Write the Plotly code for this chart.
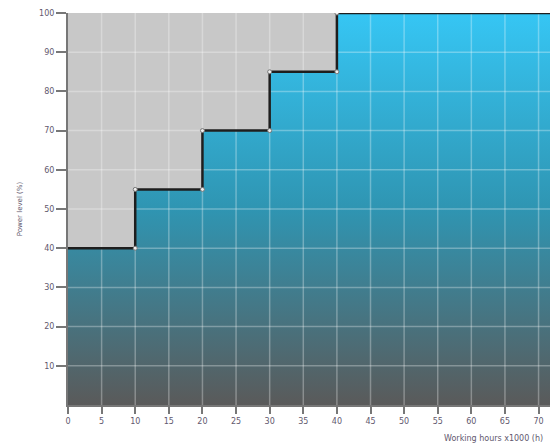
import plotly.graph_objects as go

# step changes of the power level
hours = [0, 10, 20, 30, 40, 72]
power = [40, 55, 70, 85, 100, 100]

x_ticks = list(range(0, 75, 5))
y_ticks = list(range(10, 110, 10))
x_max = 71.7

# corner points of the step (before and after each jump)
corner_x, corner_y = [], []
for i in range(1, len(hours) - 1):
    corner_x += [hours[i], hours[i]]
    corner_y += [power[i - 1], power[i]]

fig = go.Figure()

# gradient area under the step
fig.add_trace(go.Scatter(
    x=hours, y=power,
    mode="lines",
    line=dict(shape="hv", width=0),
    fill="tozeroy",
    fillgradient=dict(
        type="vertical",
        colorscale=[[0, "#5a5a5a"], [0.5, "#2f95b2"], [1, "#36c6f4"]],
    ),
    showlegend=False,
    hoverinfo="skip",
))

# grid lines on top of the fill but under the step line
gx, gy = [], []
for v in x_ticks[1:]:
    gx += [v, v, None]
    gy += [0, 100, None]
for v in y_ticks[:-1]:
    gx += [0, x_max, None]
    gy += [v, v, None]
fig.add_trace(go.Scatter(
    x=gx, y=gy, mode="lines",
    line=dict(color="rgba(255,255,255,0.3)", width=1.5),
    showlegend=False, hoverinfo="skip",
))

fig.add_trace(go.Scatter(
    x=hours, y=power,
    mode="lines",
    line=dict(shape="hv", color="#1e1e1e", width=2.5),
    showlegend=False,
    hoverinfo="skip",
))

fig.add_trace(go.Scatter(
    x=corner_x, y=corner_y,
    mode="markers",
    marker=dict(size=4, color="#f0f0f0", line=dict(color="#777", width=1)),
    showlegend=False,
))

tick_font = dict(family="DejaVu Sans", size=8, color="#62586e")

fig.update_xaxes(
    range=[0, x_max],
    tickvals=x_ticks,
    ticks="outside", ticklen=7, tickcolor="#777", tickwidth=1.5,
    showline=True, linecolor="#777", linewidth=2,
    showgrid=False, zeroline=False,
    tickfont=tick_font, automargin=False,
)
fig.update_yaxes(
    range=[0, 100],
    tickvals=y_ticks,
    ticks="outside", ticklen=10, tickcolor="#777", tickwidth=1.5,
    showline=True, linecolor="#777", linewidth=2,
    showgrid=False, zeroline=False,
    tickfont=tick_font, automargin=False,
    title=dict(text="Power level (%)", font=dict(family="DejaVu Sans", size=7, color="#62586e"), standoff=16),
)

fig.add_annotation(
    text="Working hours x1000 (h)",
    xref="paper", yref="paper", x=0.99, y=0, yshift=-33,
    xanchor="right", yanchor="middle", showarrow=False,
    font=dict(family="DejaVu Sans", size=8, color="#62586e"),
)

fig.update_layout(
    width=550, height=447,
    margin=dict(l=68, r=0, t=13, b=42),
    plot_bgcolor="#c8c8c8",
    paper_bgcolor="white",
)

fig.write_html("out.html", config={"displayModeBar": False},
               post_script="document.body.style.margin='0px';")
